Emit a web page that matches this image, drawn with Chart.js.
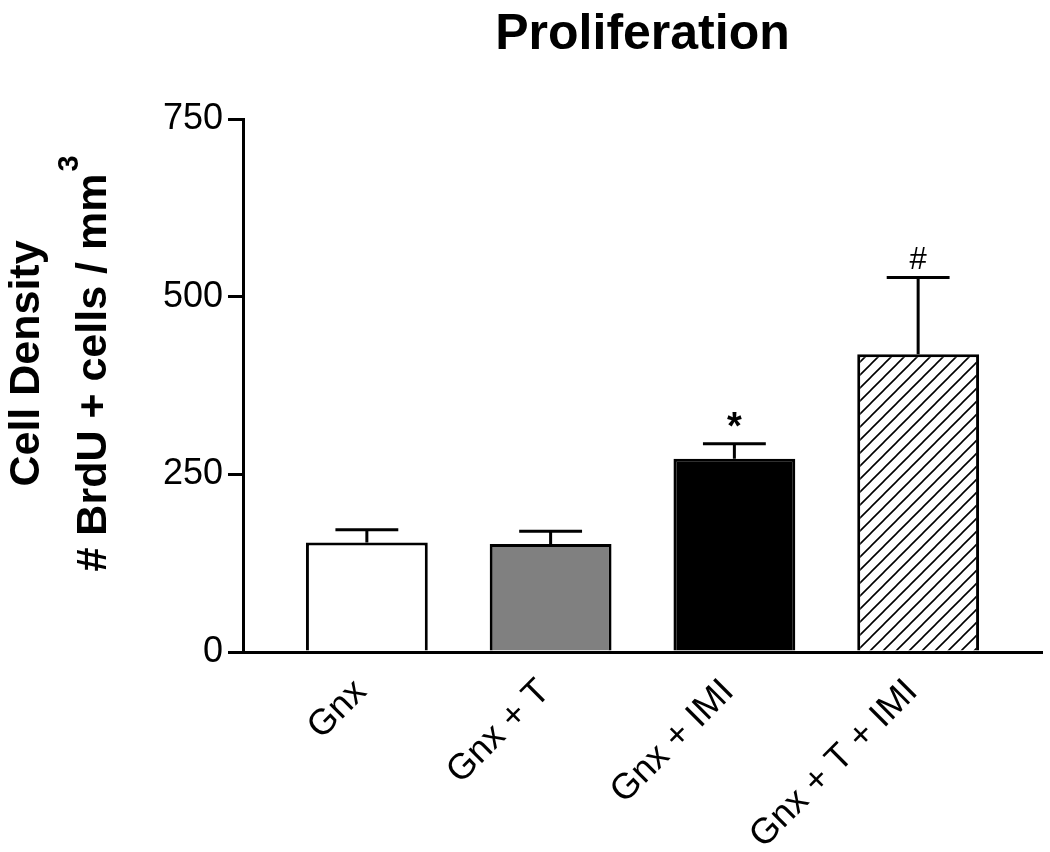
<!DOCTYPE html>
<html>
<head>
<meta charset="utf-8">
<script src="https://cdn.jsdelivr.net/npm/chart.js@4"></script>
<style>
html,body{margin:0;padding:0;background:#fff;}
#wrap{width:1050px;height:852px;position:relative;}
</style>
</head>
<body>
<div id="wrap"><canvas id="c" width="1050" height="852"></canvas></div>
<script>
const categories = ['Gnx', 'Gnx + T', 'Gnx + IMI', 'Gnx + T + IMI'];
const means = [154, 152, 272, 419];
const sem = [18, 18, 21, 108];
const significance = ['', '', '*', '#'];
const yTicks = [0, 250, 500, 750];
const titleText = 'Proliferation';
const yTitleLine1 = 'Cell Density';
const yTitleLine2 = '# BrdU + cells / mm';
const yTitleSup = '3';

const FONT = '"Liberation Sans", Arial, Helvetica, sans-serif';

function makeHatch() {
  const s = 13;
  const c = document.createElement('canvas');
  c.width = s; c.height = s;
  const g = c.getContext('2d');
  g.fillStyle = '#fff';
  g.fillRect(0, 0, s, s);
  g.strokeStyle = '#000';
  g.lineWidth = 1.6;
  g.beginPath();
  g.moveTo(0, s); g.lineTo(s, 0);
  g.moveTo(-s / 2, s / 2); g.lineTo(s / 2, -s / 2);
  g.moveTo(s / 2, s * 1.5); g.lineTo(s * 1.5, s / 2);
  g.stroke();
  return g.createPattern(c, 'repeat');
}

const fills = ['#ffffff', '#808080', '#000000', makeHatch()];

const errorBarPlugin = {
  id: 'errorBars',
  afterDatasetsDraw(chart) {
    const ctx = chart.ctx;
    const meta = chart.getDatasetMeta(0);
    const ys = chart.scales.y;
    ctx.save();
    ctx.strokeStyle = '#000';
    ctx.fillStyle = '#000';
    ctx.lineWidth = 3;
    meta.data.forEach((bar, i) => {
      const x = bar.x;
      const yBar = ys.getPixelForValue(means[i]);
      const yTop = ys.getPixelForValue(means[i] + sem[i]);
      const half = bar.width * 0.258;
      ctx.beginPath();
      ctx.moveTo(x, yBar);
      ctx.lineTo(x, yTop);
      ctx.moveTo(x - half, yTop);
      ctx.lineTo(x + half, yTop);
      ctx.stroke();
      const mark = significance[i];
      if (mark) {
        ctx.textAlign = 'center';
        ctx.textBaseline = 'alphabetic';
        if (mark === '*') {
          ctx.font = 'bold 38px ' + FONT;
          ctx.fillText(mark, x, yTop - 5);
        } else {
          ctx.font = '31px ' + FONT;
          ctx.fillText(mark, x, yTop - 8);
        }
      }
    });
    ctx.restore();
  }
};

const yTitlePlugin = {
  id: 'yTitle',
  afterDraw(chart) {
    const ctx = chart.ctx;
    const ca = chart.chartArea;
    const cy = (ca.top + ca.bottom) / 2 - 22;
    ctx.save();
    ctx.fillStyle = '#000';
    ctx.textBaseline = 'alphabetic';
    ctx.save();
    ctx.font = 'bold 43px ' + FONT;
    ctx.translate(39, cy);
    ctx.rotate(-Math.PI / 2);
    ctx.textAlign = 'center';
    ctx.fillText(yTitleLine1, 0, 0);
    ctx.restore();
    ctx.save();
    ctx.font = 'bold 43px ' + FONT;
    const wm = ctx.measureText(yTitleLine2).width;
    ctx.font = 'bold 29px ' + FONT;
    const ws = ctx.measureText(yTitleSup).width;
    const total = wm + ws + 2;
    ctx.translate(106, cy);
    ctx.rotate(-Math.PI / 2);
    ctx.textAlign = 'left';
    ctx.font = 'bold 43px ' + FONT;
    ctx.fillText(yTitleLine2, -total / 2, 0);
    ctx.font = 'bold 29px ' + FONT;
    ctx.fillText(yTitleSup, -total / 2 + wm + 2, -28);
    ctx.restore();
    ctx.restore();
  }
};

const xPad = 0.674;

new Chart(document.getElementById('c'), {
  type: 'bar',
  data: {
    datasets: [{
      data: means.map((v, i) => ({ x: i, y: v })),
      backgroundColor: fills,
      borderColor: '#000',
      borderWidth: 3,
      barPercentage: 0.663,
      categoryPercentage: 1
    }]
  },
  options: {
    responsive: false,
    animation: false,
    devicePixelRatio: 1,
    layout: { padding: { left: 0, right: 8, top: 0, bottom: 0 } },
    plugins: {
      legend: { display: false },
      tooltip: { enabled: false },
      title: {
        display: true,
        text: titleText,
        fullSize: false,
        color: '#000',
        font: { family: FONT, size: 50, weight: 'bold' },
        padding: { top: 5, bottom: 54 }
      }
    },
    scales: {
      x: {
        type: 'linear',
        offset: false,
        min: -xPad,
        max: categories.length - 1 + xPad,
        afterFit(scale) { scale.height = 200; },
        afterBuildTicks(scale) { scale.ticks = categories.map((_, i) => ({ value: i })); },
        grid: { display: false, offset: false },
        border: { display: true, color: '#000', width: 3 },
        ticks: {
          autoSkip: false,
          minRotation: 45,
          maxRotation: 45,
          padding: 11,
          labelOffset: -6,
          color: '#000',
          font: { family: FONT, size: 36 },
          callback: (v) => categories[v] !== undefined ? categories[v] : ''
        }
      },
      y: {
        min: 0,
        max: 750,
        afterFit(scale) { scale.width = 243; },
        afterBuildTicks(scale) { scale.ticks = yTicks.map(v => ({ value: v })); },
        grid: {
          display: true,
          drawOnChartArea: false,
          drawTicks: true,
          tickLength: 15,
          tickWidth: 3,
          tickColor: '#000',
          color: '#000',
          lineWidth: 3
        },
        border: { display: true, color: '#000', width: 3 },
        ticks: {
          padding: 5,
          color: '#000',
          font: { family: FONT, size: 36 }
        }
      }
    }
  },
  plugins: [errorBarPlugin, yTitlePlugin]
});
</script>
</body>
</html>
